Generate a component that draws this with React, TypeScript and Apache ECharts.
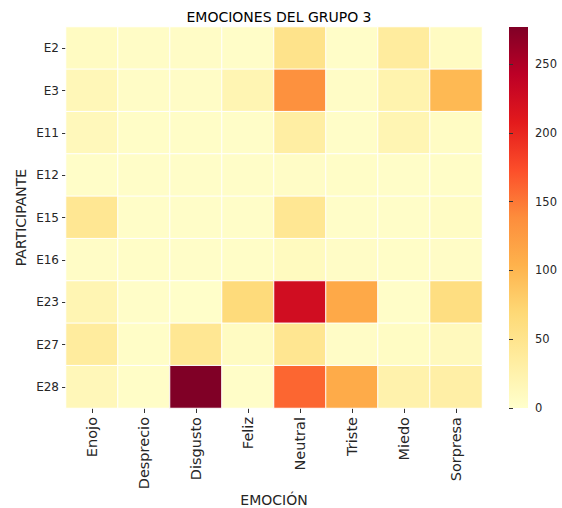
import React, { useEffect, useRef } from "react";
import * as echarts from "echarts";

const emotions = ["Enojo", "Desprecio", "Disgusto", "Feliz", "Neutral", "Triste", "Miedo", "Sorpresa"];
const participants = ["E2", "E3", "E11", "E12", "E15", "E16", "E23", "E27", "E28"];

// rows = participants, columns = emotions
const E2 = [8, 5, 5, 3, 52, 3, 36, 8];
const E3 = [16, 5, 5, 20, 135, 5, 24, 98];
const E11 = [13, 4, 4, 3, 32, 3, 20, 6];
const E12 = [3, 3, 3, 3, 5, 4, 3, 4];
const E15 = [45, 3, 3, 3, 45, 3, 3, 6];
const E16 = [5, 4, 3, 4, 10, 5, 4, 5];
const E23 = [20, 3, 2, 65, 225, 112, 3, 60];
const E27 = [36, 4, 45, 8, 47, 5, 6, 12];
const E28 = [15, 4, 277, 3, 160, 110, 25, 30];
const rows = [E2, E3, E11, E12, E15, E16, E23, E27, E28];

const colorMin = 0;
const colorMax = 277;
const colorTicks = 50;

const ylorrd = ["#ffffcc", "#ffeda0", "#fed976", "#feb24c", "#fd8d3c", "#fc4e2a", "#e31a1c", "#bd0026", "#800026"];

export default function App() {
  const ref = useRef<HTMLDivElement>(null);
  useEffect(() => {
    if (!ref.current) return;
    const chart = echarts.init(ref.current, null, { renderer: "svg" });
    const data: [number, number, number][] = [];
    rows.forEach((r, yi) => r.forEach((v, xi) => data.push([xi, yi, v])));
    const font = "DejaVu Sans";
    chart.setOption({
      animation: false,
      backgroundColor: "#ffffff",
      textStyle: { fontFamily: font },
      title: {
        text: "EMOCIONES DEL GRUPO 3",
        left: 274,
        top: 5,
        textAlign: "center",
        textStyle: { fontFamily: font, fontSize: 14, fontWeight: "normal", color: "#000" },
      },
      grid: [
        { left: 66, top: 27, width: 416, height: 381, outerBoundsMode: "none", containLabel: false },
        {
          left: 509,
          top: 27,
          width: 19,
          height: 381,
          outerBoundsMode: "none",
          containLabel: false,
          show: true,
          borderWidth: 0,
          backgroundColor: new echarts.graphic.LinearGradient(
            0, 1, 0, 0,
            ylorrd.map((c, i) => ({ offset: i / (ylorrd.length - 1), color: c }))
          ),
        },
      ],
      xAxis: [
        {
          type: "category",
          data: emotions,
          gridIndex: 0,
          position: "bottom",
          name: "EMOCIÓN",
          nameLocation: "middle",
          nameGap: 85,
          nameMoveOverlap: false,
          nameTextStyle: { fontFamily: font, fontSize: 14, color: "#262626" },
          axisLine: { show: false },
          axisTick: { show: true, alignWithLabel: true, length: 5, lineStyle: { color: "#333" } },
          axisLabel: { rotate: 90, fontSize: 14.5, color: "#262626", margin: 9, fontFamily: font },
          splitLine: { show: false },
        },
        { type: "value", gridIndex: 1, show: false, min: 0, max: 1 },
      ],
      yAxis: [
        {
          type: "category",
          data: participants,
          gridIndex: 0,
          inverse: true,
          name: "PARTICIPANTE",
          nameLocation: "middle",
          nameGap: 38,
          nameMoveOverlap: false,
          nameTextStyle: { fontFamily: font, fontSize: 14, color: "#262626" },
          axisLine: { show: false },
          axisTick: { show: true, alignWithLabel: true, length: 4, lineStyle: { color: "#333" } },
          axisLabel: { fontSize: 12, color: "#262626", margin: 7, fontFamily: font },
          splitLine: { show: false },
        },
        {
          type: "value",
          gridIndex: 1,
          position: "right",
          min: colorMin,
          max: colorMax,
          interval: colorTicks,
          axisLine: { show: false },
          axisTick: { show: true, length: 4, lineStyle: { color: "#333" } },
          axisLabel: { fontSize: 11.5, color: "#262626", margin: 7, fontFamily: font, showMaxLabel: false },
          splitLine: { show: false },
        },
      ],
      visualMap: {
        show: false,
        type: "continuous",
        min: colorMin,
        max: colorMax,
        seriesIndex: 0,
        inRange: { color: ylorrd },
      },
      series: [
        {
          type: "heatmap",
          xAxisIndex: 0,
          yAxisIndex: 0,
          data,
          itemStyle: { borderColor: "#ffffff", borderWidth: 1 },
          emphasis: { disabled: true },
        },
      ],
    });
    return () => chart.dispose();
  }, []);
  return <div ref={ref} style={{ position: "fixed", left: 0, top: 0, width: 562, height: 508 }} />;
}
